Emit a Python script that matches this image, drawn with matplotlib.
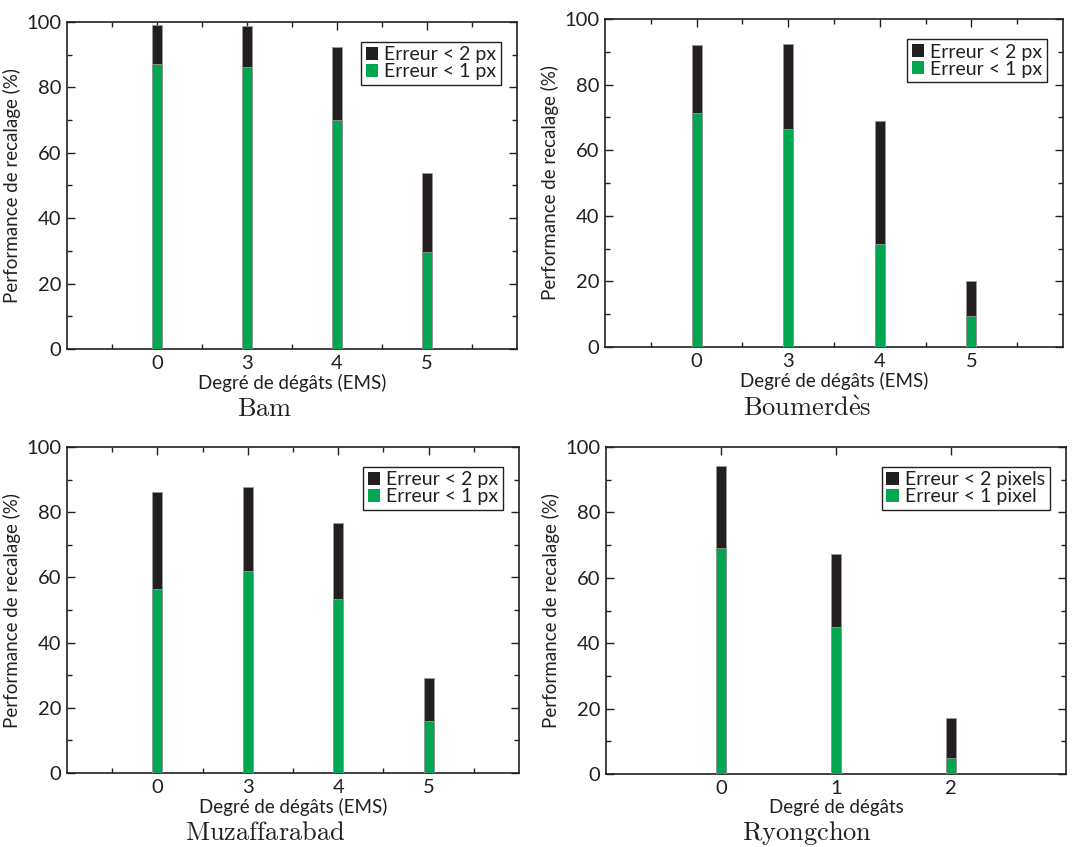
import matplotlib
matplotlib.use('Agg')
import matplotlib.pyplot as plt
import numpy as np

plt.rcParams['font.family'] = ['Lato', 'DejaVu Sans']
plt.rcParams['mathtext.fontset'] = 'cm'

GREEN = '#00a650'
BLACK = '#231f20'

# Données (%)
ems_labels = ['0', '3', '4', '5']
ryong_labels = ['0', '1', '2']

bam_2px = [99.2, 98.7, 92.4, 53.7]
bam_1px = [87.1, 86.2, 70.0, 29.8]

boum_2px = [92.1, 92.5, 68.9, 20.0]
boum_1px = [71.4, 66.4, 31.4, 9.5]

muza_2px = [86.2, 87.8, 76.6, 29.1]
muza_1px = [56.3, 62.0, 53.4, 15.8]

ryong_2px = [94.1, 67.4, 17.0]
ryong_1px = [69.2, 45.0, 5.0]

W, H = 1072, 847
fig = plt.figure(figsize=(W / 100, H / 100), dpi=100)


def px_axes(left, top, right, bottom):
    return fig.add_axes([left / W, 1 - bottom / H, (right - left) / W, (bottom - top) / H])


def draw_panel(ax, labels, v2, v1, xlabel, leg_labels, width, minor_x):
    x = np.arange(len(labels))
    ax.bar(x, v2, width=width, color=BLACK, edgecolor='#999999', linewidth=0.6,
           label=leg_labels[0], zorder=2)
    ax.bar(x, v1, width=width, color=GREEN, edgecolor='#999999', linewidth=0.6,
           label=leg_labels[1], zorder=3)
    ax.set_xlim(-1, len(labels))
    ax.set_ylim(0, 100)
    ax.set_xticks(x)
    ax.set_xticklabels(labels)
    if minor_x:
        ax.set_xticks(np.arange(-0.5, len(labels), 1.0), minor=True)
    ax.set_yticks(np.arange(0, 101, 20))
    ax.set_yticks(np.arange(10, 100, 20), minor=True)
    ax.tick_params(which='both', direction='in', top=True, right=True,
                   colors=BLACK, labelsize=14.5, width=1.0)
    ax.tick_params(which='major', length=6, pad=4)
    ax.tick_params(which='minor', length=3.5)
    for s in ax.spines.values():
        s.set_linewidth(1.2)
        s.set_color(BLACK)
    ax.set_xlabel(xlabel, fontsize=13.5, color=BLACK, labelpad=2)
    ax.set_ylabel('Performance de recalage (%)', fontsize=13.5, color=BLACK, labelpad=4)
    leg = ax.legend(loc='upper right', bbox_to_anchor=(0.965, 0.94), fontsize=14,
                    frameon=True, fancybox=False, edgecolor=BLACK, framealpha=1,
                    handlelength=0.65, handleheight=0.65, handletextpad=0.3,
                    labelspacing=0.0, borderpad=0.25, borderaxespad=0)
    leg.get_frame().set_linewidth(1.0)
    for t in leg.get_texts():
        t.set_color(BLACK)
    for h in leg.legend_handles:
        h.set_edgecolor('none')


ax1 = px_axes(67, 22, 517, 349)
draw_panel(ax1, ems_labels, bam_2px, bam_1px, 'Degré de dégâts (EMS)',
           ['Erreur < 2 px', 'Erreur < 1 px'], 0.11, True)

ax2 = px_axes(605, 19, 1063, 347)
draw_panel(ax2, ems_labels, boum_2px, boum_1px, 'Degré de dégâts (EMS)',
           ['Erreur < 2 px', 'Erreur < 1 px'], 0.11, True)

ax3 = px_axes(67, 447, 519, 773)
draw_panel(ax3, ems_labels, muza_2px, muza_1px, 'Degré de dégâts (EMS)',
           ['Erreur < 2 px', 'Erreur < 1 px'], 0.11, True)

ax4 = px_axes(606, 447, 1066, 774)
draw_panel(ax4, ryong_labels, ryong_2px, ryong_1px, 'Degré de dégâts',
           ['Erreur < 2 pixels', 'Erreur < 1 pixel'], 0.087, False)

# Sous-titres des panneaux (police Computer Modern via mathtext)
for name, xp, yp in [(r'$\mathrm{Bam}$', 265, 416),
                     (r'$\mathrm{Boumerd\grave{e}s}$', 807, 416),
                     (r'$\mathrm{Muzaffarabad}$', 265, 840),
                     (r'$\mathrm{Ryongchon}$', 807, 840)]:
    fig.text(xp / W, 1 - yp / H, name, fontsize=19,
             ha='center', va='baseline', color=BLACK)

fig.savefig('out.png', dpi=100)
